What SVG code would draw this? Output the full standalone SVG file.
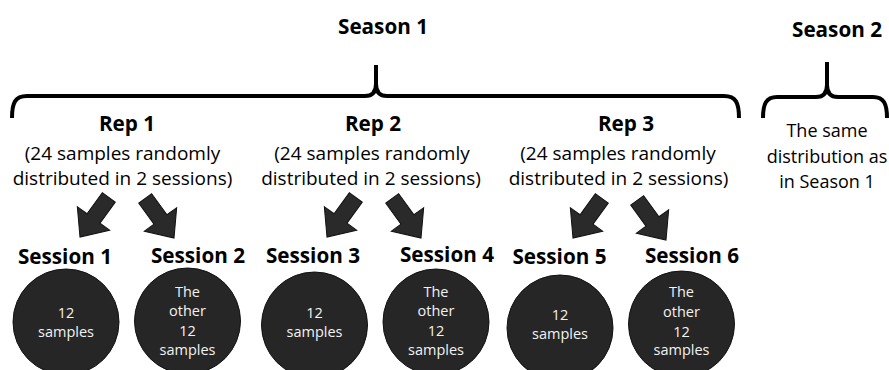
<svg xmlns="http://www.w3.org/2000/svg" xmlns:xlink="http://www.w3.org/1999/xlink" width="889" height="370" viewBox="0 0 889 370">
<style>
.t{font-family:"Open Sans","Noto Sans","Liberation Sans",sans-serif;fill:#000;text-anchor:middle}
.h{font-weight:bold;font-size:20.7px}
.sub{font-size:19px}
.s2{font-size:18px}
.c{font-family:"Open Sans","Noto Sans","Liberation Sans",sans-serif;fill:#f2f2f2;font-size:14.5px;text-anchor:middle}
.circ{fill:#262626;stroke:#111;stroke-width:1}
.brace{fill:none;stroke:#000;stroke-width:4;stroke-linecap:butt}
.arr{fill:#2a2a2a;stroke:#111;stroke-width:1}
</style>
<defs>
<polygon id="arrow" points="0,-8 26,-8 26,-20 49,0 26,20 26,8 0,8"/>
</defs>
<rect width="889" height="370" fill="#fff"/>

<g id="season1">
<text class="t h" x="383" y="34">Season 1</text>
</g>
<g id="season2">
<text class="t h" x="837" y="37">Season 2</text>
<text class="t s2" x="827" y="137">The same</text>
<text class="t s2" x="827" y="163">distribution as</text>
<text class="t s2" x="827" y="188">in Season 1</text>
</g>

<g id="connectors">
<path class="brace" d="M12,118 C12,103 15,96 27,96 L365,96 Q376,96 376,84 L376,65 M376,84 Q376,96 387,96 L724,96 C736,96 739,103 739,118"/>
<path class="brace" d="M763,118 C763,104 766,97 777,97 L816,97 Q827,97 827,85 L827,62 M827,85 Q827,97 838,97 L873,97 C884,97 887,104 887,118"/>
<use xlink:href="#arrow" class="arr" transform="translate(108.8,197.4) rotate(126)"/>
<use xlink:href="#arrow" class="arr" transform="translate(145.2,198.4) rotate(54)"/>
<use xlink:href="#arrow" class="arr" transform="translate(355.8,197.4) rotate(126)"/>
<use xlink:href="#arrow" class="arr" transform="translate(392.2,198.4) rotate(54)"/>
<use xlink:href="#arrow" class="arr" transform="translate(601.8,198.4) rotate(126)"/>
<use xlink:href="#arrow" class="arr" transform="translate(637.2,200.4) rotate(54)"/>
</g>

<g id="rep1">
<text class="t h" x="127" y="131">Rep 1</text>
<text class="t sub" x="122.5" y="160">(24 samples randomly</text>
<text class="t sub" x="122.5" y="185">distributed in 2 sessions)</text>
</g>
<g id="rep2">
<text class="t h" x="373" y="131">Rep 2</text>
<text class="t sub" x="372" y="160">(24 samples randomly</text>
<text class="t sub" x="371" y="185">distributed in 2 sessions)</text>
</g>
<g id="rep3">
<text class="t h" x="626" y="131">Rep 3</text>
<text class="t sub" x="618" y="160">(24 samples randomly</text>
<text class="t sub" x="618.5" y="185">distributed in 2 sessions)</text>
</g>

<g id="session1">
<text class="t h" x="65" y="264">Session 1</text>
<circle class="circ" cx="66" cy="322" r="53"/>
<text class="c" x="66" y="318">12</text>
<text class="c" x="66" y="337">samples</text>
</g>
<g id="session2">
<text class="t h" x="198" y="263">Session 2</text>
<circle class="circ" cx="187.5" cy="321" r="53"/>
<text class="c" x="187.5" y="297">The</text>
<text class="c" x="187.5" y="316">other</text>
<text class="c" x="187.5" y="336">12</text>
<text class="c" x="187.5" y="355">samples</text>
</g>
<g id="session3">
<text class="t h" x="313" y="263">Session 3</text>
<circle class="circ" cx="314.5" cy="325" r="53"/>
<text class="c" x="314.5" y="318">12</text>
<text class="c" x="314.5" y="337">samples</text>
</g>
<g id="session4">
<text class="t h" x="447" y="262">Session 4</text>
<circle class="circ" cx="436" cy="322" r="53"/>
<text class="c" x="436" y="297">The</text>
<text class="c" x="436" y="316">other</text>
<text class="c" x="436" y="336">12</text>
<text class="c" x="436" y="355">samples</text>
</g>
<g id="session5">
<text class="t h" x="559.5" y="264">Session 5</text>
<circle class="circ" cx="560" cy="328" r="53"/>
<text class="c" x="560" y="320">12</text>
<text class="c" x="560" y="339">samples</text>
</g>
<g id="session6">
<text class="t h" x="692" y="263">Session 6</text>
<circle class="circ" cx="681.5" cy="324" r="53"/>
<text class="c" x="681.5" y="297">The</text>
<text class="c" x="681.5" y="317">other</text>
<text class="c" x="681.5" y="337">12</text>
<text class="c" x="681.5" y="355">samples</text>
</g>
</svg>
